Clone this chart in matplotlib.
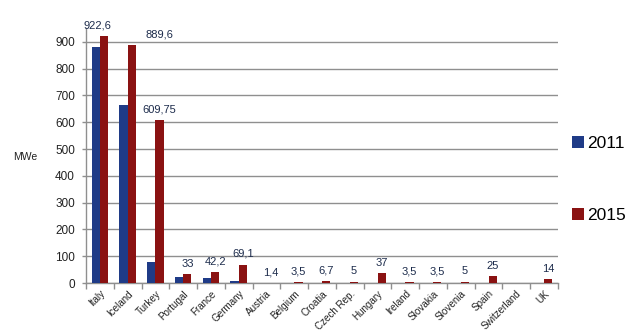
import matplotlib
matplotlib.use('Agg')
import matplotlib.pyplot as plt
import numpy as np

# -----------------------------
# Installed geothermal capacity by country
# -----------------------------
countries = ['Italy', 'Iceland', 'Turkey', 'Portugal', 'France', 'Germany', 'Austria',
             'Belgium', 'Croatia', 'Czech Rep.', 'Hungary', 'Ireland', 'Slovakia',
             'Slovenia', 'Spain', 'Switzerland', 'UK']
mwe_2011 = [882, 665, 77, 24, 17, 7, 1.4, 0, 0, 0, 0, 0, 0, 0, 0, 0, 0]
mwe_2015 = [922.6, 889.6, 609.75, 33, 42.2, 69.1, 1.4, 3.5, 6.7, 5, 37, 3.5, 3.5, 5, 25, 0, 14]
years = ['2011', '2015']
y_ticks = [0, 100, 200, 300, 400, 500, 600, 700, 800, 900]

plt.rcParams['font.family'] = ['Liberation Sans', 'DejaVu Sans']

blue = '#1f3b87'
red = '#8a1212'
grey = '#8f8f8f'

fig = plt.figure(figsize=(6.3, 3.33), dpi=100)
ax = fig.add_axes([0.1365, 0.150, 0.7492, 0.7646])

x = np.arange(len(countries))
w = 0.3
b1 = ax.bar(x - w / 2, mwe_2011, w, color=blue, label=years[0], zorder=3)
b2 = ax.bar(x + w / 2, mwe_2015, w, color=red, label=years[1], zorder=3)

# value labels above the 2015 bars (shifted where they would collide)
shift = {0: -5, 1: 20}
for i, v in enumerate(mwe_2015):
    if v <= 0:
        continue
    txt = f'{v:g}'.replace('.', ',')
    ax.annotate(txt, (x[i] + w / 2, v), xytext=(shift.get(i, 0), 4),
                textcoords='offset points', ha='center', va='bottom',
                fontsize=8, color='#1d2c4c')

ax.set_xlim(-0.5, len(countries) - 0.5)
ax.set_ylim(0, 950)
ax.set_yticks(y_ticks)
ax.yaxis.grid(True, color=grey, linewidth=1, zorder=0)
ax.set_axisbelow(True)

# category boundaries carry the x ticks, names sit at the centres
ax.set_xticks(np.arange(len(countries) + 1) - 0.5)
ax.set_xticklabels([])
ax.set_xticks(x, minor=True)
ax.set_xticklabels(countries, minor=True, rotation=45, ha='right', va='top',
                   rotation_mode='anchor', fontsize=7.1, color='#222222')
ax.tick_params(axis='x', which='major', length=4, color=grey, width=1)
ax.tick_params(axis='x', which='minor', length=0, pad=4)
ax.tick_params(axis='y', length=3, color=grey, width=1, labelsize=8.5,
               labelcolor='#222222', pad=5)

for s in ['top', 'right']:
    ax.spines[s].set_visible(False)
for s in ['left', 'bottom']:
    ax.spines[s].set_color(grey)
    ax.spines[s].set_linewidth(1)

fig.text(0.040, 0.528, 'MWe', fontsize=7.5, color='#222222', va='center', ha='center')

# legend entries placed separately at the right
for bars, yy in [(b1, 0.570), (b2, 0.352)]:
    fig.legend(handles=[bars], labels=[bars.get_label()], loc='center left',
               bbox_to_anchor=(0.908, yy), frameon=False, fontsize=12.5,
               handlelength=0.7, handleheight=0.7, handletextpad=0.15,
               borderpad=0, borderaxespad=0)

fig.savefig('out.png', dpi=100)
